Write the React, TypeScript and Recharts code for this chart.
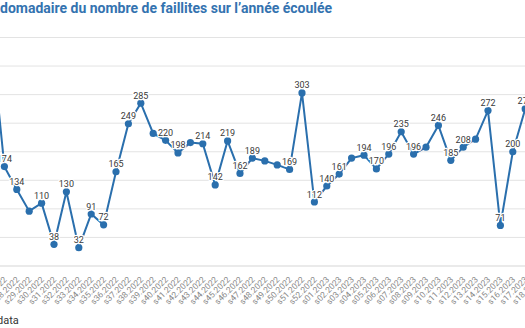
import React from 'react';
import { LineChart, Line, XAxis, YAxis, CartesianGrid, LabelList } from 'recharts';

const weeks = [
  's26.2022', 's27.2022', 's28.2022', 's29.2022', 's30.2022', 's31.2022', 's32.2022', 's33.2022', 's34.2022',
  's35.2022', 's36.2022', 's37.2022', 's38.2022', 's39.2022', 's40.2022', 's41.2022', 's42.2022', 's43.2022',
  's44.2022', 's45.2022', 's46.2022', 's47.2022', 's48.2022', 's49.2022', 's50.2022', 's51.2022', 's52.2022',
  's01.2023', 's02.2023', 's03.2023', 's04.2023', 's05.2023', 's06.2023', 's07.2023', 's08.2023', 's09.2023',
  's10.2023', 's11.2023', 's12.2023', 's13.2023', 's14.2023', 's15.2023', 's16.2023', 's17.2023', 's18.2023',
];

const faillites: (number | null)[] = [
  390, 174, 134, 96, 110, 38, 130, 32, 91,
  72, 165, 249, 285, 232, 220, 198, 216, 214,
  142, 219, 162, 189, 184, 177, 169, 303, 112,
  140, 161, 189, 194, 170, 196, 235, 196, 208,
  246, 185, 208, 222, 272, 71, 200, 275, null,
];

// weeks whose value label is not printed in the source chart
const unlabeledWeeks = ['s26.2022', 's29.2022', 's39.2022', 's42.2022', 's48.2022', 's49.2022', 's03.2023', 's09.2023', 's13.2023', 's18.2023'];

const yTicks = [0, 50, 100, 150, 200, 250, 300, 350, 400];

const titlePrefix = 'Évolution heb';
const titleRest = 'domadaire du nombre de faillites sur l’année écoulée';
const sourcePrefix = 'Source : Statbel ';
const sourceRest = 'data';

const data = weeks.map((w, i) => ({ week: w, faillites: faillites[i] }));

const BLUE = '#2a6fad';
const FONT = 'Roboto, "Noto Sans", sans-serif';

const renderLabel = (props: any) => {
  const { x, y, value, index } = props;
  if (value == null) return null;
  if (unlabeledWeeks.includes(weeks[index])) return null;
  return (
    <text
      x={x}
      y={y - 4.5}
      textAnchor="middle"
      fontSize={9}
      fontFamily={FONT}
      fill="#3a3a3a"
      stroke="#ffffff"
      strokeWidth={2.5}
      paintOrder="stroke"
      strokeLinejoin="round"
    >
      {value}
    </text>
  );
};

const renderTick = (props: any) => {
  const { x, y, payload } = props;
  return (
    <text
      transform={`translate(${x + 3},${y + 6}) rotate(-45)`}
      textAnchor="end"
      fontSize={8.5}
      fontFamily={FONT}
      fill="#8a8a8a"
    >
      {payload.value}
    </text>
  );
};

export default function App() {
  const step = 12.4;
  const chartWidth = step * (weeks.length - 1);
  return (
    <div
      style={{
        position: 'fixed',
        left: 0,
        top: 0,
        width: 525,
        height: 328,
        overflow: 'hidden',
        background: '#ffffff',
        fontFamily: FONT,
      }}
    >
      <div
        style={{
          position: 'absolute',
          left: 0,
          top: 0,
          fontSize: 14,
          fontWeight: 700,
          color: '#3473b0',
          whiteSpace: 'nowrap',
          lineHeight: '16px',
        }}
      >
        <span style={{ position: 'absolute', right: '100%', top: 0 }}>{titlePrefix}</span>
        {titleRest}
      </div>
      <div style={{ position: 'absolute', left: -8.4, top: 0 }}>
        <LineChart
          width={chartWidth}
          height={306}
          data={data}
          margin={{ top: 37.5, right: 0, bottom: 0, left: 0 }}
        >
          <CartesianGrid vertical={false} stroke="#e3e3e3" strokeWidth={1} />
          <YAxis hide domain={[0, 400]} ticks={yTicks} />
          <XAxis
            dataKey="week"
            interval={0}
            height={40}
            axisLine={{ stroke: '#e3e3e3' }}
            tickLine={false}
            tick={renderTick}
            padding={{ left: 0, right: 0 }}
          />
          <Line
            type="linear"
            dataKey="faillites"
            stroke={BLUE}
            strokeWidth={2}
            dot={{ r: 3.6, fill: BLUE, stroke: BLUE, strokeWidth: 0 }}
            isAnimationActive={false}
            connectNulls={false}
          >
            <LabelList dataKey="faillites" content={renderLabel} />
          </Line>
        </LineChart>
      </div>
      <div
        style={{
          position: 'absolute',
          left: -3,
          top: 314,
          fontSize: 11,
          color: '#333333',
          whiteSpace: 'nowrap',
          lineHeight: '14px',
        }}
      >
        <span style={{ position: 'absolute', right: '100%', top: 0 }}>{sourcePrefix}</span>
        {sourceRest}
      </div>
    </div>
  );
}
